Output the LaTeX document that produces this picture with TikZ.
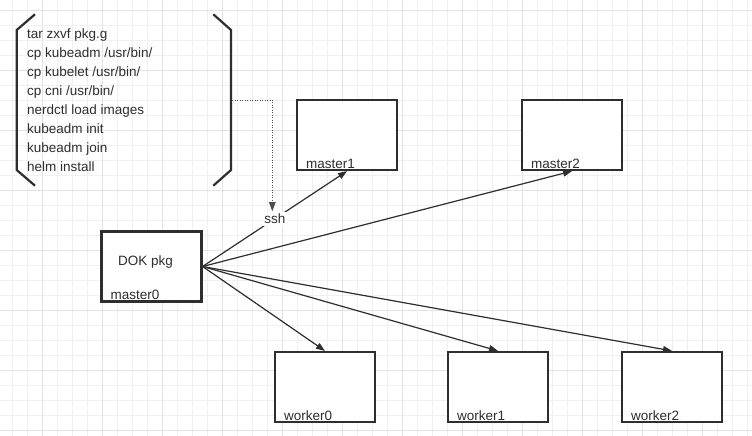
\documentclass[tikz,border=0pt]{standalone}
\usepackage{fontspec}
\setmainfont{Liberation Sans}
\usetikzlibrary{arrows.meta}
\definecolor{ink}{HTML}{2E2E2E}
\definecolor{gridminor}{HTML}{F0F0F0}
\definecolor{gridmajor}{HTML}{E3E3E3}
\begin{document}
\begin{tikzpicture}[x=1pt,y=-1pt,
  font=\fontsize{13.5}{19}\selectfont, text=ink,
  box/.style={draw=ink, line width=2.2pt, fill=white, minimum width=100pt, minimum height=70pt, inner sep=0pt},
  boxlabel/.style={anchor=base west, inner sep=0pt},
  conn/.style={draw=ink, line width=1.2pt, -{Triangle[length=9pt,width=6.5pt]}},
  dotconn/.style={draw=ink!85, line width=1pt, dash pattern=on 1pt off 1.5pt, -{Triangle[length=9pt,width=6.5pt]}},
  bracket/.style={draw=ink, line width=2.2pt, line join=miter}
]
\useasboundingbox (0,0) rectangle (752,436);
\fill[white] (0,0) rectangle (752,436);
% grid
\foreach \k in {0,...,49} { \draw[gridminor, line width=0.9pt] ({12.7+15*\k},0) -- ({12.7+15*\k},436); }
\foreach \k in {0,...,28} { \draw[gridminor, line width=0.9pt] (0,{10.7+15*\k}) -- (752,{10.7+15*\k}); }
\foreach \k in {0,...,12} { \draw[gridmajor, line width=0.9pt] ({42.7+60*\k},0) -- ({42.7+60*\k},436); }
\foreach \k in {0,...,7} { \draw[gridmajor, line width=0.9pt] (0,{10.7+60*\k}) -- (752,{10.7+60*\k}); }

% brackets
\draw[bracket] (35,14.3) -- (16.7,30) -- (16.7,170) -- (35,185.7);
\draw[bracket] (213.3,14.3) -- (231,30) -- (231,170) -- (213.3,185.7);
\coordinate (brk) at (232,100);

% command list
\node[anchor=west, align=left, inner sep=0pt] (cmds) at (27,100.5) {tar zxvf pkg.g\\cp kubeadm /usr/bin/\\cp kubelet /usr/bin/\\cp cni /usr/bin/\\nerdctl load images\\kubeadm init\\kubeadm join\\helm install};

% boxes
\node[box] (m0) at (151.5,266.5) {};
\node[box] (m1) at (347,135) {};
\node[box] (m2) at (572,135) {};
\node[box] (w0) at (325,387) {};
\node[box] (w1) at (498,387) {};
\node[box] (w2) at (672,387) {};

\node[inner sep=0pt] (dok) at (145.5,262) {DOK pkg};
\node[boxlabel] (m0l) at ([xshift=10pt,yshift=3pt]m0.south west) {master0};
\node[boxlabel] (m1l) at ([xshift=10pt,yshift=3pt]m1.south west) {master1};
\node[boxlabel] (m2l) at ([xshift=10pt,yshift=3pt]m2.south west) {master2};
\node[boxlabel] (w0l) at ([xshift=10pt,yshift=3pt]w0.south west) {worker0};
\node[boxlabel] (w1l) at ([xshift=10pt,yshift=3pt]w1.south west) {worker1};
\node[boxlabel] (w2l) at ([xshift=10pt,yshift=3pt]w2.south west) {worker2};

% connectors
\draw[conn] (m0.east) -- node[fill=white, inner sep=2pt] (ssh) {ssh} (m1.south);
\draw[conn] (m0.east) -- (m2.south);
\draw[conn] (m0.east) -- (w0.north);
\draw[conn] (m0.east) -- (w1.north);
\draw[conn] (m0.east) -- (w2.north);
\draw[dotconn] (brk) -| ([xshift=-2.5pt]ssh.north);
\end{tikzpicture}
\end{document}
